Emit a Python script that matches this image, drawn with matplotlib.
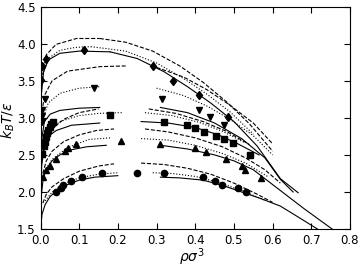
import matplotlib
matplotlib.use("Agg")
import matplotlib.pyplot as plt

# simulation points (rho, T) for the five systems
circ_rho = [0.039, 0.052, 0.059, 0.079, 0.108, 0.159, 0.249, 0.319, 0.419, 0.451, 0.470, 0.511, 0.530]
circ_T = [2.00, 2.05, 2.09, 2.15, 2.20, 2.25, 2.26, 2.25, 2.20, 2.15, 2.10, 2.05, 2.00]

tri_rho = [0.007, 0.014, 0.025, 0.039, 0.063, 0.072, 0.092, 0.208, 0.310, 0.399, 0.429, 0.479, 0.520, 0.529, 0.570]
tri_T = [2.20, 2.30, 2.35, 2.45, 2.55, 2.60, 2.65, 2.69, 2.65, 2.59, 2.54, 2.44, 2.35, 2.30, 2.19]

sq_rho = [0.004, 0.010, 0.012, 0.014, 0.017, 0.020, 0.024, 0.028, 0.032, 0.179, 0.319,
          0.379, 0.399, 0.423, 0.453, 0.475, 0.497, 0.541]
sq_T = [2.51, 2.62, 2.68, 2.74, 2.79, 2.84, 2.88, 2.92, 2.95, 3.04, 2.95,
        2.91, 2.86, 2.81, 2.76, 2.71, 2.66, 2.50]

itri_rho = [0.003, 0.003, 0.005, 0.012, 0.139, 0.315, 0.410, 0.439, 0.474]
itri_T = [2.95, 3.02, 3.11, 3.26, 3.40, 3.25, 3.11, 3.01, 2.90]

dia_rho = [0.001, 0.003, 0.013, 0.113, 0.291, 0.343, 0.410, 0.485]
dia_T = [3.51, 3.70, 3.80, 3.92, 3.70, 3.50, 3.31, 3.01]

# theory curves, (rho, T) pairs, vapour and liquid branches
circ_solid_v = [(0.0, 1.5), (0.004, 1.7), (0.012, 1.83), (0.025, 1.94), (0.045, 2.03), (0.07, 2.10),
                (0.10, 2.16), (0.14, 2.20), (0.20, 2.22)]
circ_solid_l = [(0.31, 2.20), (0.36, 2.19), (0.42, 2.16), (0.47, 2.09), (0.52, 2.00), (0.57, 1.91),
                (0.62, 1.81), (0.67, 1.65), (0.716, 1.5)]
circ_dash_v = [(0.006, 1.85), (0.015, 1.97), (0.03, 2.07), (0.06, 2.18), (0.10, 2.28), (0.15, 2.35), (0.19, 2.38)]
circ_dash_l = [(0.26, 2.39), (0.32, 2.37), (0.38, 2.32), (0.44, 2.24), (0.50, 2.12), (0.56, 1.97), (0.60, 1.86)]
circ_dot_v = [(0.012, 1.88), (0.03, 2.00), (0.06, 2.11), (0.10, 2.19), (0.15, 2.24), (0.20, 2.26)]
circ_dot_l = [(0.29, 2.26), (0.34, 2.25), (0.40, 2.21), (0.46, 2.13), (0.52, 2.02), (0.58, 1.89)]

tri_solid_v = [(0.0, 1.5), (0.002, 1.95), (0.007, 2.18), (0.015, 2.31), (0.03, 2.42), (0.05, 2.50),
               (0.08, 2.57), (0.12, 2.61), (0.17, 2.63)]
tri_solid_l = [(0.31, 2.63), (0.38, 2.58), (0.45, 2.50), (0.50, 2.42), (0.55, 2.30), (0.62, 2.02),
               (0.68, 1.78), (0.754, 1.5)]
tri_dash_v = [(0.006, 2.25), (0.015, 2.42), (0.03, 2.55), (0.06, 2.68), (0.10, 2.77), (0.145, 2.83), (0.19, 2.85)]
tri_dash_l = [(0.27, 2.85), (0.33, 2.81), (0.40, 2.73), (0.47, 2.61), (0.53, 2.46), (0.58, 2.30), (0.62, 2.12)]
tri_dot_v = [(0.01, 2.28), (0.03, 2.44), (0.067, 2.59), (0.10, 2.66), (0.127, 2.71), (0.18, 2.73)]
tri_dot_l = [(0.26, 2.72), (0.33, 2.70), (0.40, 2.63), (0.47, 2.52), (0.53, 2.39), (0.59, 2.20)]

sq_solid_v = [(0.0, 1.6), (0.003, 2.35), (0.01, 2.62), (0.02, 2.75), (0.041, 2.83), (0.08, 2.90),
              (0.153, 2.93)]
sq_solid_l = [(0.26, 2.95), (0.33, 2.93), (0.40, 2.87), (0.46, 2.77), (0.51, 2.65), (0.565, 2.50)]
sq_dash_v = [(0.004, 2.45), (0.012, 2.65), (0.03, 2.85), (0.06, 2.98), (0.10, 3.07), (0.15, 3.12)]
sq_dash_l = [(0.28, 3.12), (0.35, 3.06), (0.42, 2.95), (0.48, 2.82), (0.54, 2.64)]
sq_dot_v = [(0.006, 2.55), (0.02, 2.80), (0.05, 2.95), (0.10, 3.03), (0.15, 3.06), (0.21, 3.07)]
sq_dot_l = [(0.27, 3.07), (0.34, 3.03), (0.41, 2.94), (0.47, 2.82), (0.53, 2.66)]

itri_solid_v = [(0.0, 1.8), (0.003, 2.7), (0.01, 2.95), (0.025, 3.05), (0.05, 3.10), (0.10, 3.13), (0.153, 3.14)]
itri_solid_l = [(0.31, 3.14), (0.38, 3.07), (0.45, 2.93), (0.52, 2.72), (0.58, 2.46), (0.62, 2.17), (0.653, 2.0)]
itri_dash_v = [(0.002, 3.0), (0.01, 3.30), (0.03, 3.50), (0.07, 3.63), (0.153, 3.69), (0.22, 3.70)]
itri_dash_l = [(0.30, 3.68), (0.37, 3.55), (0.43, 3.38), (0.49, 3.17), (0.55, 2.93), (0.60, 2.65)]
itri_dot_v = [(0.004, 2.95), (0.02, 3.20), (0.05, 3.33), (0.10, 3.40), (0.153, 3.42)]
itri_dot_l = [(0.30, 3.40), (0.37, 3.30), (0.43, 3.16), (0.49, 2.98), (0.55, 2.76), (0.60, 2.50)]

dia_solid_v = [(0.0, 2.5), (0.002, 3.3), (0.008, 3.62), (0.02, 3.78), (0.05, 3.87), (0.10, 3.90), (0.18, 3.89)]
dia_solid_l = [(0.18, 3.89), (0.25, 3.80), (0.32, 3.62), (0.38, 3.42), (0.44, 3.20), (0.50, 2.95),
               (0.56, 2.62), (0.62, 2.18), (0.666, 1.99)]
dia_dash_v = [(0.003, 3.5), (0.015, 3.85), (0.04, 3.99), (0.093, 4.07), (0.153, 4.07)]
dia_dash_l = [(0.153, 4.07), (0.22, 4.02), (0.29, 3.90), (0.36, 3.70), (0.42, 3.48), (0.48, 3.22),
              (0.54, 2.92), (0.60, 2.55)]
dia_dot_v = [(0.004, 3.55), (0.02, 3.80), (0.05, 3.91), (0.09, 3.95), (0.13, 3.96)]
dia_dot_l = [(0.13, 3.96), (0.22, 3.90), (0.30, 3.74), (0.37, 3.53), (0.43, 3.32), (0.49, 3.08),
             (0.55, 2.78)]

plt.rcParams["font.family"] = "DejaVu Sans"
plt.rcParams["mathtext.fontset"] = "dejavusans"

fig = plt.figure(figsize=(3.6, 2.75), dpi=100)
ax = fig.add_axes([0.1125, 0.167, 0.8597, 0.809])

curves = [
    (circ_solid_v, "-"), (circ_solid_l, "-"), (circ_dash_v, "--"), (circ_dash_l, "--"),
    (circ_dot_v, ":"), (circ_dot_l, ":"),
    (tri_solid_v, "-"), (tri_solid_l, "-"), (tri_dash_v, "--"), (tri_dash_l, "--"),
    (tri_dot_v, ":"), (tri_dot_l, ":"),
    (sq_solid_v, "-"), (sq_solid_l, "-"), (sq_dash_v, "--"), (sq_dash_l, "--"),
    (sq_dot_v, ":"), (sq_dot_l, ":"),
    (itri_solid_v, "-"), (itri_solid_l, "-"), (itri_dash_v, "--"), (itri_dash_l, "--"),
    (itri_dot_v, ":"), (itri_dot_l, ":"),
    (dia_solid_v, "-"), (dia_solid_l, "-"), (dia_dash_v, "--"), (dia_dash_l, "--"),
    (dia_dot_v, ":"), (dia_dot_l, ":"),
]
for pts, ls in curves:
    xs = [p[0] for p in pts]
    ys = [p[1] for p in pts]
    ax.plot(xs, ys, color="black", ls=ls, lw=0.8)

ms = 4.5
ax.plot(circ_rho, circ_T, "o", color="black", ms=ms)
ax.plot(tri_rho, tri_T, "^", color="black", ms=ms)
ax.plot(sq_rho, sq_T, "s", color="black", ms=ms - 0.5)
ax.plot(itri_rho, itri_T, "v", color="black", ms=ms)
ax.plot(dia_rho, dia_T, "d", color="black", ms=ms)

ax.set_xlim(0, 0.8)
ax.set_ylim(1.5, 4.5)
ax.set_xticks([0.0, 0.1, 0.2, 0.3, 0.4, 0.5, 0.6, 0.7, 0.8])
ax.set_yticks([1.5, 2.0, 2.5, 3.0, 3.5, 4.0, 4.5])
ax.tick_params(direction="in", top=True, right=True, labelsize=8.5, length=4)
ax.set_xlabel(r"$\rho\sigma^3$", fontsize=10)
ax.set_ylabel(r"$k_BT/\varepsilon$", fontsize=10)
ax.xaxis.set_label_coords(0.49, -0.08)
ax.yaxis.set_label_coords(-0.077, 0.49)

fig.savefig("out.png", dpi=100)
